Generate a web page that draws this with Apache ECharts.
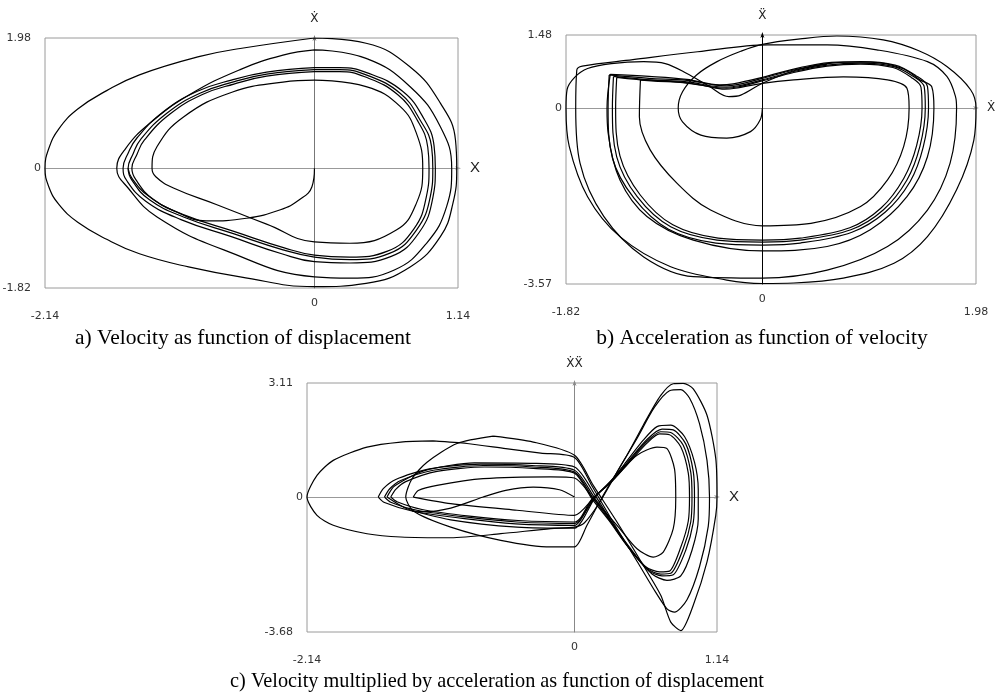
<!DOCTYPE html>
<html>
<head>
<meta charset="utf-8">
<title>Phase portraits</title>
<script src="https://cdn.jsdelivr.net/npm/echarts@6.0.0/dist/echarts.min.js"></script>
<style>
  html, body { margin: 0; padding: 0; background: #fff; }
  #chart { width: 1004px; height: 697px; }
</style>
</head>
<body>
<div id="chart"></div>
<script>
// axis ranges of the three panels
const aXRange = [-2.14, 1.14];
const aYRange = [-1.82, 1.98];
const bXRange = [-1.82, 1.98];
const bYRange = [-3.57, 1.48];
const cXRange = [-2.14, 1.14];
const cYRange = [-3.68, 3.11];

const captions = [
  'a) Velocity as function of displacement',
  'b) Acceleration as function of velocity',
  'c) Velocity multiplied by acceleration as function of displacement'
];

// a) velocity vs displacement
const aStart = [[0,0],[-0.02,-0.28],[-0.12,-0.48],[-0.27,-0.63],[-0.54,-0.76],[-0.86,-0.80],[-1.10,-0.66],[-1.32,-0.42],[-1.45,-0.15],[-1.48,0]];
const aCore1 = [[0,1.50],[0.20,1.50],[0.41,1.42],[0.68,1.14],[0.84,0.73],[0.93,0.33],[0.94,0],[0.92,-0.43],[0.81,-0.94],[0.60,-1.29],[0.28,-1.39],[0,-1.35],[-0.25,-1.24],[-0.65,-0.99],[-1.04,-0.74],[-1.31,-0.48],[-1.45,-0.18],[-1.48,0],[-1.44,0.22],[-1.38,0.44],[-1.17,0.84],[-0.91,1.14],[-0.65,1.31],[-0.38,1.43],[0,1.50]];
const aCore2 = [[0,1.53],[0.20,1.53],[0.42,1.45],[0.70,1.17],[0.87,0.75],[0.95,0.34],[0.96,0],[0.94,-0.45],[0.83,-0.98],[0.61,-1.34],[0.28,-1.44],[0,-1.42],[-0.26,-1.30],[-0.66,-1.04],[-1.06,-0.78],[-1.34,-0.50],[-1.49,-0.19],[-1.52,0],[-1.48,0.23],[-1.41,0.46],[-1.20,0.86],[-0.93,1.17],[-0.66,1.34],[-0.38,1.46],[0,1.53]];
const aCore3 = [[0,1.47],[0.20,1.47],[0.40,1.39],[0.66,1.12],[0.82,0.72],[0.90,0.32],[0.91,0],[0.89,-0.42],[0.79,-0.92],[0.58,-1.26],[0.28,-1.35],[0,-1.32],[-0.24,-1.21],[-0.64,-0.96],[-1.02,-0.72],[-1.28,-0.47],[-1.42,-0.17],[-1.45,0],[-1.41,0.21],[-1.35,0.43],[-1.15,0.82],[-0.89,1.12],[-0.64,1.28],[-0.38,1.40],[0,1.47]];
const aInner = [[0,1.34],[0.41,1.24],[0.68,0.94],[0.81,0.53],[0.86,0],[0.81,-0.53],[0.65,-0.94],[0.28,-1.14],[0,-1.12],[-0.38,-0.85],[-0.78,-0.55],[-1.12,-0.30],[-1.26,-0.13],[-1.29,0],[-1.25,0.33],[-1.04,0.78],[-0.65,1.16],[-0.25,1.31],[0,1.34]];
const aRing2 = [[0,1.80],[0.41,1.67],[0.76,1.24],[1.00,0.63],[1.09,0],[1.05,-0.58],[0.89,-1.14],[0.63,-1.55],[0.28,-1.67],[0,-1.65],[-0.72,-1.24],[-1.25,-0.74],[-1.48,-0.30],[-1.57,0],[-1.50,0.30],[-1.31,0.68],[-0.99,1.12],[-0.59,1.50],[-0.25,1.72],[0,1.80]];
const aOuter = [[0,1.98],[0.41,1.90],[0.76,1.54],[1.00,0.99],[1.12,0.43],[1.13,0],[1.10,-0.53],[1.00,-1.04],[0.76,-1.50],[0.41,-1.75],[0,-1.80],[-0.59,-1.65],[-1.00,-1.50],[-1.39,-1.30],[-1.65,-1.08],[-1.88,-0.82],[-2.03,-0.55],[-2.11,-0.28],[-2.14,0],[-2.11,0.30],[-2.03,0.60],[-1.88,0.90],[-1.65,1.18],[-1.39,1.42],[-0.91,1.70],[-0.59,1.82],[0,1.98]];

// b) acceleration vs velocity
const bStart = [[0,0],[-0.02,-0.24],[-0.11,-0.48],[-0.33,-0.61],[-0.57,-0.55],[-0.74,-0.28],[-0.78,0],[-0.74,0.33],[-0.61,0.67],[-0.42,0.94],[-0.20,1.15],[0,1.29],[0.35,1.40],[0.69,1.46],[1.12,1.38],[1.45,1.16],[1.71,0.84],[1.93,0.37],[1.98,0],[1.96,-0.65],[1.80,-1.66],[1.53,-2.61],[1.22,-3.15],[0.75,-3.45],[0.29,-3.55],[0,-3.56],[-0.33,-3.49],[-0.85,-3.22],[-1.32,-2.61],[-1.62,-1.80],[-1.79,-0.78],[-1.82,0],[-1.81,0.37],[-1.74,0.62],[-1.62,0.80],[-1.40,0.90],[-1.10,0.94],[-0.90,0.90],[-0.70,0.70],[-0.50,0.45],[-0.31,0.23],[-0.20,0.26],[0,0.50],[0.30,0.76],[0.60,0.89]];
const bRing3 = [[-1.73,0],[-1.72,0.77],[-1.67,0.85],[-1.20,0.98],[-0.60,1.14],[0.05,1.28],[0.60,1.28],[1.06,1.18],[1.53,0.94],[1.71,0.64],[1.79,0.23],[1.80,0],[1.74,-1.12],[1.53,-2.07],[1.16,-2.81],[0.60,-3.29],[0,-3.45],[-0.64,-3.42],[-1.10,-3.02],[-1.47,-2.20],[-1.69,-1.12],[-1.73,0]];
const bRing2 = [[-1.41,0.68],[-1.05,0.64],[-0.70,0.58],[-0.40,0.47],[-0.27,0.49],[0,0.62],[0.35,0.82],[0.70,0.93],[1.00,0.93],[1.30,0.80],[1.46,0.57],[1.57,0.43],[1.59,0],[1.53,-0.99],[1.34,-1.80],[1.00,-2.47],[0.60,-2.81],[0,-2.90],[-0.64,-2.68],[-1.07,-2.20],[-1.32,-1.46],[-1.43,-0.50],[-1.44,0],[-1.41,0.68]];
const bCore1 = [[-1.38,0.64],[-1.04,0.57],[-0.70,0.53],[-0.45,0.44],[-0.33,0.42],[-0.22,0.45],[0,0.57],[0.29,0.74],[0.60,0.87],[0.91,0.91],[1.22,0.84],[1.40,0.64],[1.50,0.43],[1.51,0],[1.46,-0.78],[1.34,-1.46],[1.12,-2.07],[0.82,-2.47],[0.35,-2.68],[0,-2.72],[-0.42,-2.68],[-0.85,-2.41],[-1.16,-1.80],[-1.35,-0.99],[-1.39,0],[-1.38,0.64]];
const bCore2 = [[-1.42,0.67],[-1.05,0.60],[-0.70,0.56],[-0.45,0.47],[-0.33,0.45],[-0.22,0.48],[0,0.60],[0.29,0.77],[0.60,0.90],[0.91,0.94],[1.23,0.87],[1.42,0.66],[1.53,0.44],[1.54,0],[1.49,-0.80],[1.37,-1.49],[1.14,-2.11],[0.83,-2.52],[0.35,-2.74],[0,-2.78],[-0.43,-2.74],[-0.87,-2.46],[-1.19,-1.83],[-1.39,-1.01],[-1.43,0],[-1.42,0.67]];
const bCore3 = [[-1.35,0.62],[-1.03,0.55],[-0.70,0.51],[-0.45,0.42],[-0.33,0.40],[-0.22,0.43],[0,0.55],[0.29,0.72],[0.60,0.85],[0.91,0.89],[1.21,0.82],[1.38,0.62],[1.47,0.42],[1.48,0],[1.43,-0.76],[1.31,-1.43],[1.10,-2.03],[0.81,-2.43],[0.35,-2.64],[0,-2.68],[-0.41,-2.64],[-0.83,-2.37],[-1.13,-1.77],[-1.32,-0.97],[-1.36,0],[-1.35,0.62]];
const bInner = [[-1.13,0.57],[-1.14,-0.18],[-1.04,-0.85],[-0.79,-1.53],[-0.48,-2.07],[0,-2.39],[0.45,-2.34],[0.91,-2.00],[1.16,-1.46],[1.31,-0.78],[1.36,0],[1.34,0.40],[1.16,0.57],[0.75,0.63],[0.29,0.57],[0,0.50],[-0.25,0.40],[-0.35,0.38],[-0.55,0.46],[-0.85,0.54],[-1.13,0.57]];

// c) velocity*acceleration vs displacement
const cStart = [[0,0],[-0.12,0.20],[-0.33,0.27],[-0.55,0.18],[-0.73,0],[-0.99,-0.30],[-1.20,-0.40],[-1.30,-0.38]];
const cCore1 = [[-1.52,0],[-1.48,0.22],[-1.39,0.45],[-1.13,0.73],[-0.73,0.86],[-0.33,0.82],[0,0.68],[0.15,-0.04],[0.29,-0.68],[0.42,-1.32],[0.58,-1.95],[0.69,-2.10],[0.77,-2.08],[0.87,-1.41],[0.93,-0.68],[0.94,0],[0.93,0.68],[0.87,1.41],[0.77,1.76],[0.69,1.78],[0.58,1.52],[0.42,0.91],[0.29,0.41],[0.15,-0.04],[0.05,-0.59],[0,-0.72],[-0.46,-0.68],[-0.86,-0.55],[-1.26,-0.36],[-1.47,-0.14],[-1.52,0]];
const cCore2 = [[-1.57,0],[-1.53,0.23],[-1.43,0.48],[-1.16,0.77],[-0.75,0.90],[-0.34,0.86],[0,0.73],[0.16,-0.02],[0.30,-0.70],[0.43,-1.36],[0.59,-2.00],[0.70,-2.15],[0.79,-2.12],[0.89,-1.45],[0.95,-0.70],[0.96,0],[0.95,0.70],[0.89,1.45],[0.79,1.83],[0.70,1.85],[0.58,1.57],[0.42,0.94],[0.29,0.44],[0.16,-0.02],[0.05,-0.62],[0,-0.77],[-0.47,-0.73],[-0.88,-0.59],[-1.30,-0.38],[-1.52,-0.15],[-1.57,0]];
const cCore3 = [[-1.47,0],[-1.43,0.21],[-1.35,0.42],[-1.10,0.70],[-0.72,0.82],[-0.33,0.78],[0,0.65],[0.14,-0.05],[0.28,-0.66],[0.41,-1.28],[0.57,-1.90],[0.68,-2.04],[0.76,-2.02],[0.85,-1.37],[0.91,-0.66],[0.92,0],[0.91,0.66],[0.85,1.37],[0.76,1.70],[0.68,1.72],[0.58,1.47],[0.42,0.88],[0.29,0.39],[0.14,-0.05],[0.05,-0.56],[0,-0.68],[-0.45,-0.64],[-0.84,-0.52],[-1.22,-0.34],[-1.42,-0.13],[-1.47,0]];
const cMid = [[-1.50,0],[-1.44,0.30],[-1.20,0.72],[-0.80,0.93],[-0.35,0.92],[0,0.82],[0.17,0.02],[0.32,-0.80],[0.48,-1.55],[0.62,-2.10],[0.74,-2.27],[0.85,-2.15],[0.94,-1.45],[0.99,-0.60],[0.99,0.20],[0.96,0.95],[0.88,1.65],[0.77,1.96],[0.66,1.92],[0.55,1.55],[0.40,0.90],[0.27,0.35],[0.17,0.02],[0.06,-0.65],[0,-0.85],[-0.46,-0.82],[-0.99,-0.62],[-1.34,-0.32],[-1.50,0]];
const cInner = [[-1.29,0],[-1.25,0.18],[-1.10,0.32],[-0.73,0.50],[-0.19,0.55],[0,0.52],[0.15,-0.04],[0.34,-0.77],[0.50,-1.41],[0.63,-1.64],[0.71,-1.50],[0.79,-0.86],[0.81,-0.04],[0.80,0.77],[0.74,1.32],[0.66,1.36],[0.50,1.14],[0.34,0.59],[0.15,-0.04],[0,-0.50],[-0.46,-0.36],[-0.99,-0.18],[-1.29,0]];
const cCircle = [[-0.65,1.66],[-0.33,1.50],[0,1.14],[0.15,0.32],[0.34,-0.68],[0.55,-1.86],[0.69,-2.68],[0.77,-3.41],[0.85,-3.64],[0.95,-2.95],[1.06,-1.77],[1.13,-0.50],[1.14,0],[1.13,1.05],[1.06,2.23],[0.95,2.95],[0.87,3.10],[0.79,3.09],[0.69,2.77],[0.55,1.96],[0.42,1.14],[0.23,0.05],[0.10,-0.77],[0,-1.36],[-0.19,-1.36],[-0.59,-1.18],[-0.99,-0.82],[-1.29,-0.38],[-1.35,0],[-1.30,0.50],[-1.18,0.95],[-0.94,1.46],[-0.65,1.66]];
const cEllipse = [[-1.13,1.53],[-0.86,1.46],[-0.55,1.32],[-0.27,1.20],[0,1.08],[0.14,0.30],[0.32,-0.75],[0.50,-1.75],[0.65,-2.60],[0.74,-3.05],[0.80,-3.14],[0.90,-2.80],[1.00,-1.90],[1.07,-0.80],[1.08,0],[1.06,1.00],[1.00,2.00],[0.92,2.70],[0.85,2.93],[0.76,2.90],[0.64,2.45],[0.50,1.60],[0.36,0.80],[0.20,-0.15],[0.08,-0.70],[0,-0.82],[-0.19,-0.86],[-0.59,-1.00],[-0.99,-1.11],[-1.39,-1.09],[-1.66,-1.00],[-1.93,-0.77],[-2.06,-0.50],[-2.14,0],[-2.06,0.59],[-1.93,1.00],[-1.66,1.36],[-1.39,1.50],[-1.13,1.53]];

const chart = echarts.init(document.getElementById('chart'));
const font = 'DejaVu Sans';
const grids = [], xAxes = [], yAxes = [], series = [];

function tickLabel(values, margin) {
  return {
    show: true, customValues: values, margin: margin,
    fontFamily: font, fontSize: 11, color: '#333',
    formatter: v => (v === 0 ? '0' : v.toFixed(2))
  };
}

function addPanel(box, xr, yr, xName, yName, yLineColor, curves, smooth) {
  const g = grids.length;
  grids.push({
    left: box[0], top: box[1], width: box[2], height: box[3],
    show: true, borderColor: '#9a9a9a', borderWidth: 1,
    containLabel: false, outerBoundsMode: 'none'
  });
  const xi = xAxes.length, yi = yAxes.length;
  const hidden = { axisLine: { show: false, onZero: false }, axisTick: { show: false }, splitLine: { show: false } };

  // axis lines through the origin
  xAxes.push({
    type: 'value', gridIndex: g, min: xr[0], max: xr[1], position: 'bottom',
    axisLine: { onZero: true, onZeroAxisIndex: yi, lineStyle: { color: '#999', width: 1 },
      symbol: ['none', 'arrow'], symbolSize: [3, 6], symbolOffset: [0, 3] },
    axisTick: { show: false }, axisLabel: { show: false }, splitLine: { show: false },
    name: xName.text, nameLocation: 'end', nameGap: xName.gap,
    nameTextStyle: { fontFamily: xName.font, fontSize: xName.size, color: '#222' }
  });
  // tick labels under the box: the zero and the two ends sit at different heights
  xAxes.push(Object.assign({ type: 'value', gridIndex: g, min: xr[0], max: xr[1], position: 'bottom', axisLabel: tickLabel([0], 10) }, hidden));
  xAxes.push(Object.assign({ type: 'value', gridIndex: g, min: xr[0], max: xr[1], position: 'bottom', axisLabel: tickLabel(xr, 23) }, hidden));

  yAxes.push({
    type: 'value', gridIndex: g, min: yr[0], max: yr[1], position: 'left',
    axisLine: { onZero: true, onZeroAxisIndex: xi, lineStyle: { color: yLineColor, width: 1 },
      symbol: ['none', 'arrow'], symbolSize: [3, 6], symbolOffset: [0, 3] },
    axisTick: { show: false }, axisLabel: { show: false }, splitLine: { show: false },
    name: yName, nameLocation: 'end', nameGap: 13,
    nameTextStyle: { fontFamily: font, fontSize: 12, color: '#222' }
  });
  yAxes.push(Object.assign({ type: 'value', gridIndex: g, min: yr[0], max: yr[1], position: 'left', axisLabel: tickLabel([0], 4) }, hidden));
  yAxes.push(Object.assign({ type: 'value', gridIndex: g, min: yr[0], max: yr[1], position: 'left', axisLabel: tickLabel(yr, 14) }, hidden));

  curves.forEach(d => series.push({
    type: 'line', xAxisIndex: xi, yAxisIndex: yi, data: d, smooth: smooth,
    symbol: 'none', silent: true, lineStyle: { color: '#000', width: 1.2 }
  }));
}

addPanel([45, 38, 413, 250], aXRange, aYRange,
  { text: 'X', font: 'Liberation Sans', size: 15, gap: 12 }, '\u1E8A', '#777',
  [aOuter, aRing2, aCore1, aCore2, aCore3, aInner, aStart], 0.45);
addPanel([566, 35, 410, 249], bXRange, bYRange,
  { text: '\u1E8A', font: font, size: 12, gap: 11 }, '\u1E8C', '#000',
  [bStart, bRing3, bRing2, bCore1, bCore2, bCore3, bInner], 0.35);
addPanel([307, 383, 410, 249], cXRange, cYRange,
  { text: 'X', font: 'Liberation Sans', size: 15, gap: 12 }, '\u1E8A\u1E8C', '#888',
  [cEllipse, cCircle, cMid, cCore1, cCore2, cCore3, cInner, cStart], 0.25);

const captionStyle = { fontFamily: 'Liberation Serif', fontSize: 21.5, fontWeight: 'normal', color: '#000' };
const option = {
  animation: false,
  backgroundColor: '#fff',
  title: [
    { text: captions[0], left: 243, top: 327, textAlign: 'center', padding: 0, textStyle: captionStyle },
    { text: captions[1], left: 762, top: 327, textAlign: 'center', padding: 0, textStyle: captionStyle },
    { text: captions[2], left: 497, top: 672, textAlign: 'center', padding: 0,
      textStyle: Object.assign({}, captionStyle, { fontSize: 20.3 }) }
  ],
  grid: grids,
  xAxis: xAxes,
  yAxis: yAxes,
  series: series
};
chart.setOption(option);
</script>
</body>
</html>
